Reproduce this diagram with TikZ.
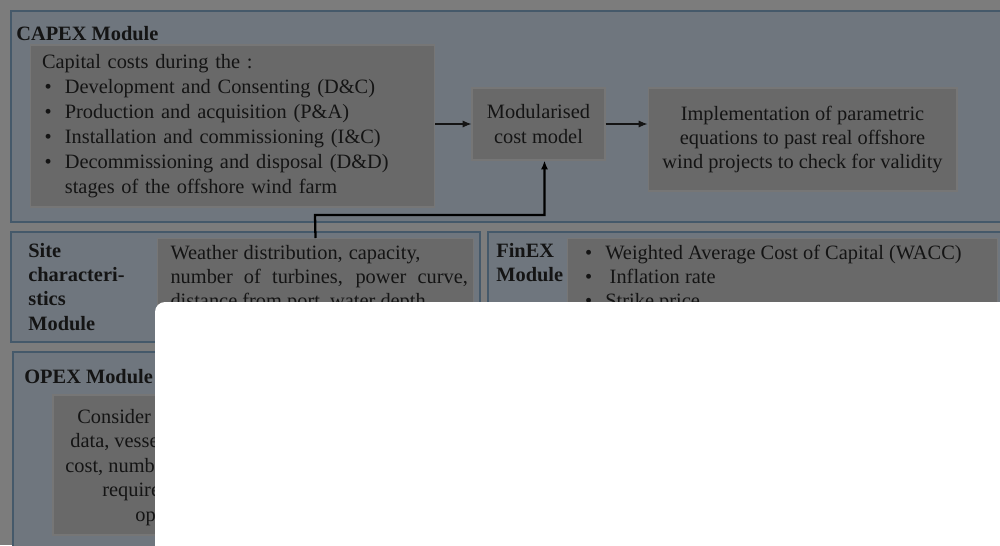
\documentclass[tikz,border=0pt]{standalone}
\usepackage{fontspec}
\setmainfont{Liberation Serif}
\usetikzlibrary{arrows.meta}
\definecolor{bggray}{HTML}{7C7C7C}
\definecolor{modfill}{HTML}{6F767E}
\definecolor{modline}{HTML}{45596A}
\definecolor{boxfill}{HTML}{696969}
\definecolor{boxline}{HTML}{767676}
\definecolor{ink}{HTML}{141414}
\tikzset{
  module/.style={draw=modline, fill=modfill, line width=1.2pt},
  graybox/.style={draw=boxline, fill=boxfill, line width=0.6pt, inner sep=0pt, text=ink},
  title/.style={font=\bfseries\fontsize{11.6}{13.8}\selectfont, text=ink, align=left, inner sep=0pt},
  body/.style={font=\fontsize{11.6}{14.2}\selectfont, text=ink, inner sep=0pt},
  arr/.style={-{Latex[length=5pt,width=4pt]}, line width=0.6pt, draw=ink},
  link/.style={-{Latex[length=5pt,width=4pt]}, line width=1.3pt, draw=black}
}
\newcommand{\itm}{\makebox[13pt][l]{\hspace{1.5pt}\textbullet}}
\begin{document}
\begin{tikzpicture}[x=0.02cm, y=-0.02cm]
    \useasboundingbox (0,0) rectangle (1000,545);
    \fill[bggray] (0,0) rectangle (1000,545);
    % module frames
    \draw[module] (11,11) rectangle (1015,222);
    \draw[module] (11,232) rectangle (480,342);
    \draw[module] (488,232) rectangle (1015,342);
    \draw[module] (13,352) rectangle (1015,560);
    \node[title, anchor=west] (capextitle) at (16,34) {CAPEX Module};
    \node[title, anchor=north west] (sitetitle) at (28,243) {Site\\characteri-\\stics\\Module};
    \node[title, anchor=north west] (fintitle) at (496,243) {FinEX\\Module};
    \node[title, anchor=west] (opextitle) at (24,377) {OPEX Module};
    % capex row
    \node[graybox, body, minimum width=8.1cm, minimum height=3.24cm, text width=7.62cm, align=left] (capexbox) at (232.5,126)
      {Capital costs during the :\\
       \itm Development and Consenting (D\&C)\\
       \itm Production and acquisition (P\&A)\\
       \itm Installation and commissioning (I\&C)\\
       \itm Decommissioning and disposal (D\&D)\\
       \hspace*{13pt}stages of the offshore wind farm};
    \node[graybox, body, minimum width=2.66cm, minimum height=1.44cm, align=center] (model) at (538.5,124)
      {Modularised\\cost model};
    \node[graybox, body, font=\fontsize{11.6}{13.6}\selectfont, minimum width=6.18cm, minimum height=2.06cm, align=center] (impl) at (802.5,139.5)
      {Implementation of parametric\\equations to past real offshore\\wind projects to check for validity};
    \draw[arr] (capexbox.east |- model.west) -- (model.west);
    \draw[arr] (model.east) -- (model.east -| impl.west);
    % site and finex row
    \node[graybox, body, anchor=north west, inner xsep=0.26cm, inner ysep=0.14cm] (site) at (157,238)
      {\parbox[t][1.68cm][t]{5.8cm}{\fontsize{11.6}{13.6}\selectfont
       \makebox[5.0cm][s]{Weather distribution, capacity,}\\
       \makebox[5.95cm][s]{number of turbines, power curve,}\\
       distance from port, water depth}};
    \node[graybox, body, anchor=north west, inner xsep=0.3cm, inner ysep=0.14cm] (finex) at (567,238)
      {\parbox[t][1.68cm][t]{8cm}{\fontsize{11.6}{13.6}\selectfont
       \itm Weighted Average Cost of Capital (WACC)\\
       \itm \hspace{2.5pt}Inflation rate\\
       \itm Strike price}};
    \coordinate (turn) at (315,215);
    \draw[link] (site.north) -- (turn) -| ([xshift=0.12cm]model.south);
    % opex row
    \draw[graybox] (53,395) rectangle (480,535);
    \foreach \txt/\x/\y [count=\i] in {Consider/77/417, {data, vessel}/70/442, {cost, number}/65/467, required/102/492, operations/135/517}
      \node[body, anchor=west] (opex\i) at (\x,\y) {\txt};
    % overlay
    \fill[white, rounded corners=0.2cm] (155,302) rectangle (1030,570);
\end{tikzpicture}
\end{document}
